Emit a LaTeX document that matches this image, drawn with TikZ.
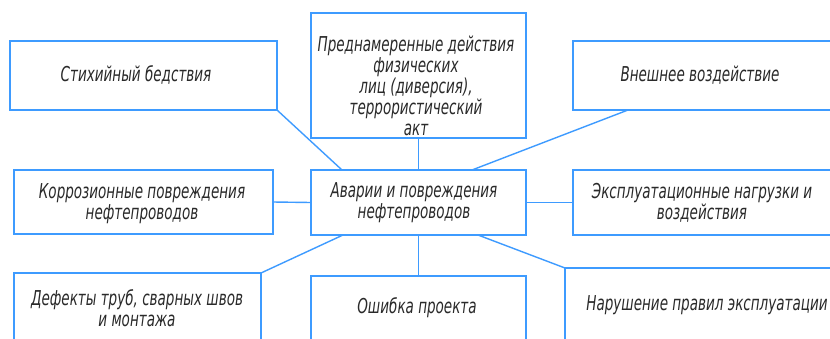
\documentclass[tikz,border=0pt]{standalone}
\usepackage{fontspec}
\newfontfamily\gostfont{DejaVu Sans}[FakeStretch=0.66]
\usetikzlibrary{calc}
\definecolor{lineblue}{HTML}{3E9BFF}
\definecolor{txt}{HTML}{2A2A2A}
\tikzset{
  box/.style={draw=lineblue, line width=1.4pt, inner sep=0pt, outer sep=0pt, fill=white},
  lbl/.style={text=txt, align=center, inner sep=0pt, font=\gostfont\itshape\fontsize{20.5}{21}\selectfont},
  conn/.style={draw=lineblue, line width=1.4pt}
}
\begin{document}
\begin{tikzpicture}[x=1pt,y=-1pt]
\useasboundingbox (0,0) rectangle (830,338);
\clip (0,0) rectangle (830,338);
\fill[white] (0,0) rectangle (830,338);
% boxes
\node[box, minimum width=267pt, minimum height=69pt] (stich) at (143.5,75.5) {};
\node[box, minimum width=215pt, minimum height=125pt] (top) at (418.5,75.5) {};
\node[box, minimum width=297pt, minimum height=69pt] (vnesh) at (721.5,75.5) {};
\node[box, minimum width=259pt, minimum height=64pt] (korr) at (143.5,202) {};
\node[box, minimum width=215pt, minimum height=65pt] (avar) at (418.5,202.5) {};
\node[box, minimum width=297pt, minimum height=65pt] (expl) at (721.5,202.5) {};
\node[box, minimum width=247pt, minimum height=87pt] (defect) at (137.5,316.5) {};
\node[box, minimum width=215pt, minimum height=84pt] (osh) at (418.5,318) {};
\node[box, minimum width=305pt, minimum height=92pt] (narush) at (717.5,314) {};
% connectors
\draw[conn] (stich.south east) -- ([xshift=31pt]avar.north west);
\draw[conn] (top.south) -- (avar.north);
\draw[conn] ([xshift=55pt]vnesh.south west) -- ([xshift=-54pt]avar.north east);
\draw[conn] (korr.east) -- (avar.west);
\draw[conn] (avar.east) -- (expl.west);
\draw[conn] ([xshift=32pt]avar.south west) -- (defect.north east);
\draw[conn] (avar.south) -- (osh.north);
\draw[conn] ([xshift=-48pt]avar.south east) -- (narush.north west);
% texts
\node[lbl] (tstich) at (136,75) {Стихийный бедствия};
\node[lbl] (ttop) at (416,86) {Преднамеренные действия\\физических\\лиц (диверсия),\\террористический\\акт};
\node[lbl] (tvnesh) at (700,75) {Внешнее воздействие};
\node[lbl] (tkorr) at (142,204) {Коррозионные повреждения\\нефтепроводов};
\node[lbl] (tavar) at (414,203) {Аварии и повреждения\\нефтепроводов};
\node[lbl] (texpl) at (702,203) {Эксплуатационные нагрузки и\\воздействия};
\node[lbl] (tdefect) at (137,308) {Дефекты труб, сварных швов\\и монтажа};
\node[lbl] (tosh) at (417,308) {Ошибка проекта};
\node[lbl] (tnarush) at (707,305) {Нарушение правил эксплуатации};
\end{tikzpicture}
\end{document}
